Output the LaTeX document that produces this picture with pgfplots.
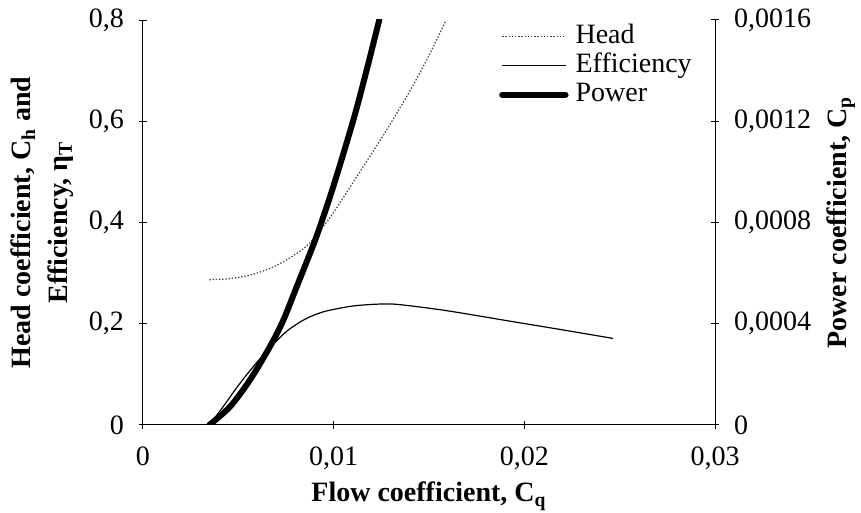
\documentclass[border=0pt]{standalone}
\usepackage{fontspec}
\setmainfont{Liberation Serif}
\usepackage{pgfplots}
\pgfplotsset{compat=1.18}

\begin{document}
\begin{tikzpicture}[font=\fontsize{14pt}{16pt}\selectfont]
\path[use as bounding box] (-71.5pt,-44pt) rectangle (359pt,212.5pt);
\pgfplotsset{
  common/.style={
    scale only axis, width=286pt, height=202.5pt,
    at={(0pt,0pt)}, anchor=south west,
    xmin=0, xmax=0.03,
    scaled x ticks=false, scaled y ticks=false,
    tick align=outside, major tick length=4pt,
    tick style={line width=0.5pt, black},
    /pgf/number format/assume math mode=true,
  },
  nolinearrows/.style={
    axis line style={-, line width=0.5pt, black},
    every outer x axis line/.append style={-},
    every outer y axis line/.append style={-},
    every inner x axis line/.append style={-},
    every inner y axis line/.append style={-},
  },
}
\begin{axis}[common,
  ymin=0, ymax=0.8,
  axis x line=bottom, axis y line=left,
  nolinearrows,
  xtick={0,0.01,0.02,0.03}, xticklabels={0,{0,01},{0,02},{0,03}},
  ytick={0,0.2,0.4,0.6,0.8}, yticklabels={0,{0,2},{0,4},{0,6},{0,8}},
  xticklabel style={yshift=-5.5pt},
  yticklabel style={xshift=-4pt},
  xlabel={\textbf{Flow coefficient, C\textsubscript{q}}},
  xlabel style={at={(axis description cs:0.5,-0.176)}, anchor=center},
  ylabel={\textbf{Head coefficient, C\textsubscript{h} and}\\\textbf{Efficiency, η\textsubscript{T}}},
  ylabel style={at={(axis description cs:-0.176,0.5)}, anchor=center, align=center, font=\fontsize{14pt}{18.3pt}\selectfont},
]
% Head coefficient
\addplot[smooth, black!75, line width=0.6pt, dash pattern=on 0.7pt off 0.9pt] coordinates {
(0.00348,0.287) (0.0045,0.289) (0.0056,0.296) (0.0067,0.310) (0.0077,0.330)
(0.0086,0.354) (0.0092,0.380) (0.0100,0.420) (0.0112,0.490) (0.0126,0.572)
(0.0140,0.660) (0.0150,0.730) (0.0159,0.800)
};
% Efficiency
\addplot[smooth, black, line width=0.6pt] coordinates {
(0.00348,0) (0.0042,0.036) (0.0050,0.078) (0.0058,0.116) (0.0066,0.150)
(0.0075,0.184) (0.0085,0.209) (0.0095,0.224) (0.0110,0.235) (0.0125,0.239)
(0.01348,0.2377) (0.01593,0.2258) (0.01942,0.204) (0.02204,0.1877) (0.02466,0.171)
};
\end{axis}
\begin{axis}[common,
  ymin=0, ymax=0.0016,
  axis x line=none, axis y line=right,
  nolinearrows,
  ytick={0,0.0004,0.0008,0.0012,0.0016},
  yticklabels={0,{0,0004},{0,0008},{0,0012},{0,0016}},
  yticklabel style={xshift=4pt},
  ylabel={\textbf{Power coefficient, C\textsubscript{p}}},
  ylabel style={at={(axis description cs:1.220,0.5)}, anchor=center},
  legend image code/.code={\draw[#1] (0pt,0pt) -- (31.7pt,0pt);},
  legend cell align=left,
  legend style={at={(axis description cs:0.622,0.994)}, anchor=north west,
    draw=none, fill=none, inner sep=0pt, row sep=0.5pt, column sep=3pt,
    nodes={inner sep=0.5pt, text height=10pt, text depth=3pt}},
]
\addlegendimage{black!75, line width=0.6pt, dash pattern=on 0.7pt off 0.9pt}
\addlegendentry{Head}
\addlegendimage{black, line width=0.6pt}
\addlegendentry{Efficiency}
\addplot[smooth, black, line width=3pt, line cap=round] coordinates {
(0.00348,0) (0.00456,0.000072) (0.00561,0.000178) (0.00666,0.00031)
(0.00736,0.000414) (0.00806,0.000546) (0.00876,0.000678) (0.00919,0.000764)
(0.00998,0.000942) (0.01103,0.001204) (0.01173,0.001402) (0.01239,0.0016)
};
\addlegendentry{Power}
\end{axis}
\end{tikzpicture}
\end{document}
